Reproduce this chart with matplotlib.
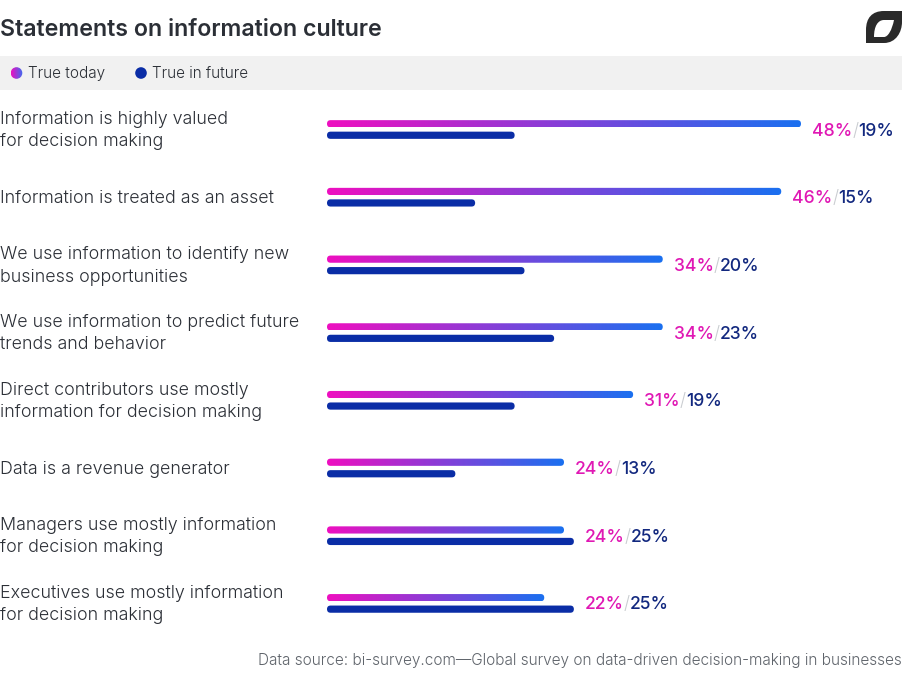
import numpy as np
import matplotlib
matplotlib.use("Agg")
import matplotlib.pyplot as plt
from matplotlib.colors import LinearSegmentedColormap
from matplotlib.patches import FancyBboxPatch, Rectangle, PathPatch, Circle
from matplotlib.path import Path

categories = [
    "Information is highly valued\nfor decision making",
    "Information is treated as an asset",
    "We use information to identify new\nbusiness opportunities",
    "We use information to predict future\ntrends and behavior",
    "Direct contributors use mostly\ninformation for decision making",
    "Data is a revenue generator",
    "Managers use mostly information\nfor decision making",
    "Executives use mostly information\nfor decision making",
]
true_today = [48, 46, 34, 34, 31, 24, 24, 22]
true_future = [19, 15, 20, 23, 19, 13, 25, 25]
title = "Statements on information culture"
source = "Data source: bi-survey.com\u2014Global survey on data-driven decision-making in businesses"

W, H = 902, 688
FONT = "Inter"
INK = "#2b2f36"
PINK = "#ee0fc0"
BLUE = "#1a70f0"
NAVY = "#0a2da6"
LBL_NAVY = "#12287f"
cmap = LinearSegmentedColormap.from_list("g", [PINK, BLUE])

fig = plt.figure(figsize=(W / 100, H / 100), dpi=100, facecolor="white")
bg = fig.add_axes([0, 0, 1, 1])
bg.set_xlim(0, W); bg.set_ylim(H, 0); bg.axis("off")

bg.add_patch(Rectangle((0, 56), W, 34, fc="#f1f1f1", ec="none"))
bg.text(0, 29.5, title, fontsize=16.7, fontweight=600, family=FONT, color=INK, va="center")
bg.text(W, 660, source, fontsize=11.05, family=FONT, fontweight=300, color="#5f646b", va="center", ha="right")

# legend
im = bg.imshow(np.linspace(0, 1, 64).reshape(1, -1), extent=(10.5, 22.5, 79, 67), cmap=LinearSegmentedColormap.from_list("d", ["#ee0fc0", "#3a6cf0"]), aspect="auto", zorder=3)
c = Circle((16.5, 73), 5.8, transform=bg.transData); im.set_clip_path(c)
bg.add_patch(Circle((141, 73), 5.8, fc=NAVY, ec="none"))
bg.text(28, 73.5, "True today", fontsize=11, family=FONT, fontweight=300, color=INK, va="center")
bg.text(152, 73.5, "True in future", fontsize=11, family=FONT, fontweight=300, color=INK, va="center")

# logo
M, L, C, Z = Path.MOVETO, Path.LINETO, Path.CURVE4, Path.CLOSEPOLY
verts = [(866, 43), (866, 30), (866, 18), (872, 11), (884, 11), (902, 11), (902, 22), (902, 32), (896, 43), (884, 43), (866, 43),
         (874, 37), (884, 37), (888, 37), (892, 30), (894, 20), (884, 20), (878, 20), (874, 26), (874, 37), (874, 37)]
codes = [M, L, C, C, C, L, L, C, C, C, Z, M, L, C, C, C, L, C, C, C, Z]
bg.add_patch(PathPatch(Path(verts, codes), fc="#2a2a2a", ec="none"))

bg.set_xlim(0, W); bg.set_ylim(H, 0)

# chart axes, pixel box chosen to place the percent scale
row = 67.7
top = 129.5 - row / 2
px_per = 9.875
x0 = 327
ax = fig.add_axes([x0 / W, 1 - (top + 8 * row) / H, (W - x0) / W, 8 * row / H])
ax.set_xlim(0, (W - x0) / px_per)
ax.set_ylim(7.5, -0.5)
ax.axis("off")
ax.patch.set_alpha(0)

y = np.arange(len(categories))
off = 5.75 / row
bh = 7.2 / row
b1 = ax.barh(y - off, true_today, height=bh, color="none")
b2 = ax.barh(y + off, true_future, height=bh, color="none")
aspect = (1 / row) / (1 / px_per)
r = 3.6 / px_per

def rounded(rect, **kw):
    x, yy, w, h = rect.get_x(), rect.get_y(), rect.get_width(), rect.get_height()
    p = FancyBboxPatch((x, yy), w, h, boxstyle=f"round,pad=0,rounding_size={r}", mutation_aspect=aspect, **kw)
    ax.add_patch(p)
    rect.set_visible(False)
    return p

grad = np.linspace(0, 1, 256).reshape(1, -1)
for rect in b1:
    p = rounded(rect, fc="none", ec="none")
    img = ax.imshow(grad, extent=(0, rect.get_width(), rect.get_y() + rect.get_height(), rect.get_y()), cmap=cmap, aspect="auto", zorder=2)
    img.set_clip_path(p)
for rect in b2:
    rounded(rect, fc=NAVY, ec="none", zorder=2)
ax.set_xlim(0, (W - x0) / px_per)
ax.set_ylim(7.5, -0.5)

for i, (cat, a, b) in enumerate(zip(categories, true_today, true_future)):
    ax.annotate(cat, xy=(0, i), xytext=(-327, -1), textcoords="offset pixels", fontsize=12.85, family=FONT, fontweight=300,
                color=INK, va="center", ha="left", linespacing=1.42, annotation_clip=False)
    end = max(a, b)
    t1 = ax.annotate(f"{a}%", xy=(end, i), xytext=(11, -1.5), textcoords="offset pixels", fontsize=12.6, family=FONT, fontweight=500,
                     color="#e018b4", va="center", ha="left")
    t2 = ax.annotate("/", xy=(1, 0), xycoords=t1, fontsize=12.6, family=FONT, fontweight=300, color="#c9ccd0", va="bottom", ha="left")
    ax.annotate(f"{b}%", xy=(1, 0), xycoords=t2, fontsize=12.6, family=FONT, fontweight=500, color=LBL_NAVY, va="bottom", ha="left")

fig.savefig("out.png", dpi=100, facecolor="white")
